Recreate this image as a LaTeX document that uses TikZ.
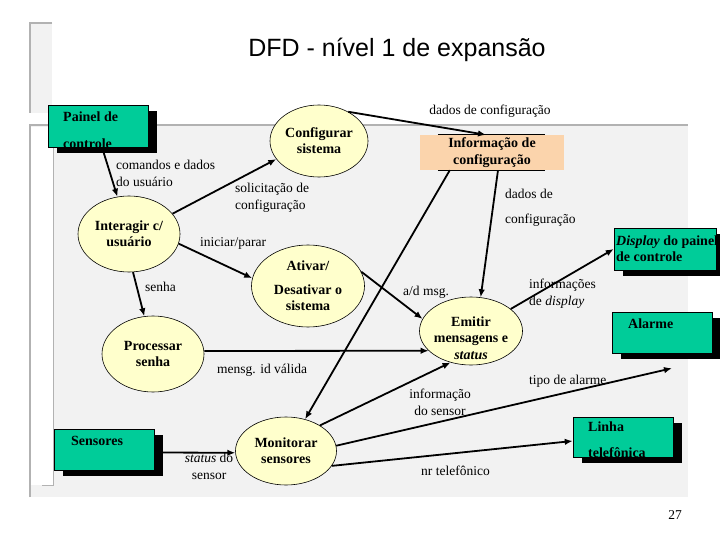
\documentclass[tikz,border=0pt]{standalone}
\usepackage{fontspec}
\setmainfont{Liberation Serif}
\newfontfamily\titlefont{Liberation Sans}
\usetikzlibrary{arrows.meta,positioning,shapes.geometric,shadows}

\definecolor{procfill}{RGB}{255,255,204}
\definecolor{extgreen}{RGB}{0,204,153}
\definecolor{storefill}{RGB}{251,212,172}
\definecolor{panelgray}{RGB}{242,242,242}
\definecolor{framegray}{RGB}{178,178,178}

\begin{document}
\begin{tikzpicture}[x=1pt,y=-1pt,
  proc/.style={ellipse,draw,fill=procfill,line width=0.6pt,inner sep=0pt,align=center,
    font=\fontsize{14}{16}\selectfont\bfseries},
  ext/.style={draw,fill=extgreen,line width=0.5pt,minimum width=100pt,minimum height=41pt,inner sep=0pt,
    drop shadow={shadow xshift=9pt,shadow yshift=-6pt,fill=black,opacity=1}},
  exttext/.style={anchor=north west,inner sep=0pt,align=left,font=\fontsize{14}{16}\selectfont\bfseries},
  store/.style={fill=storefill,minimum width=144pt,minimum height=35pt,inner sep=0pt,align=center,
    font=\fontsize{14}{17}\selectfont\bfseries},
  lbl/.style={inner sep=0pt,align=left,font=\fontsize{13.5}{17}\selectfont},
  arr/.style={-{Latex[length=8pt,width=6.5pt]},line width=1.8pt}
]
  \useasboundingbox (0,0) rectangle (720,540);
  \fill[white] (0,0) rectangle (720,540);

  % slide frame
  \fill[panelgray] (30,23) rectangle (52,113);
  \draw[framegray,line width=2pt] (52,23) -- (30,23) -- (30,113);
  \fill[panelgray] (30,125) rectangle (688,497);
  \draw[framegray,line width=2pt] (30,497) -- (30,125) -- (688,125);
  \fill[white] (31,127) rectangle (53,485);
  \draw[framegray,line width=1pt] (53,127) -- (53,485) -- (42,485);

  \node[font=\titlefont\fontsize{25}{30}\selectfont] (title) at (397,50) {DFD - nível 1 de expansão};

  % external entities
  \node[ext,minimum height=42pt] (painel) at (98,126) {};
  \node[exttext] (painelt) at (63,112) {Painel de\\[11pt]controle};
  \node[ext,minimum width=102pt,minimum height=42pt] (disp) at (665,249) {};
  \node[exttext] (dispt) at (616,236) {\textit{Display} do painel\\de controle};
  \node[ext] (alarm) at (662,332.5) {};
  \node[exttext] (alarmt) at (628,319) {Alarme};
  \node[ext,minimum height=40pt] (linha) at (623,437) {};
  \node[exttext] (linhat) at (588,422) {Linha\\[10pt]telefônica};
  \node[ext] (sens) at (104,449.5) {};
  \node[exttext] (senst) at (71,436) {Sensores};

  % processes
  \node[proc,minimum width=98pt,minimum height=72pt] (conf) at (319,141) {Configurar\\sistema};
  \node[proc,minimum width=102pt,minimum height=76pt] (inter) at (129,234) {Interagir c/\\usuário};
  \node[proc,minimum width=113pt,minimum height=82pt] (ativ) at (308,286) {Ativar/\\[8pt]Desativar o\\sistema};
  \node[proc,minimum width=103pt,minimum height=68pt] (emit) at (471,331) {};
  \node[inner sep=0pt,align=center,font=\fontsize{14}{16.5}\selectfont\bfseries] (emitt) at (471,338)
    {Emitir\\mensagens e\\\textit{status}};
  \node[proc,minimum width=102pt,minimum height=76pt] (proc) at (153,354) {Processar\\senha};
  \node[proc,minimum width=101pt,minimum height=68pt] (moni) at (286,451) {Monitorar\\sensores};

  % data store
  \node[store] (info) at (492,152.5) {Informação de\\configuração};
  \draw[line width=0.8pt] ([xshift=18pt]info.north west) -- ([xshift=-19pt]info.north east);
  \draw[line width=0.8pt] ([xshift=18pt]info.south west) -- ([xshift=-19pt]info.south east);

  % flows
  \draw[arr] ([xshift=4pt]painel.south) -- (inter);
  \draw[arr] (inter.25) -- (conf.203);
  \draw[arr] (conf.45) -- ([xshift=-6pt]info.north);
  \draw[arr] (inter.-11) -- (ativ.172);
  \draw[arr] (inter.-84) -- (proc.103);
  \draw[arr] (ativ.15) -- (emit.166);
  \draw[arr] ([yshift=3pt]proc.east) -- (emit.205);
  \draw[arr] ([xshift=30pt]info.south west) -- (moni.59);
  \draw[arr] ([xshift=6pt]info.south) -- (emit.74);
  \draw[arr] (emit.29) -- (disp.west);
  \draw[arr] (moni.37) -- (emit.237);
  \draw[arr] (moni.6) -- ([xshift=10pt,yshift=-15pt]alarm.south);
  \draw[arr] (moni.-18) -- ([yshift=-4pt]linha.west);
  \draw[arr] ([yshift=-3pt]sens.east) -- (moni.182);

  % flow labels
  \node[lbl,anchor=west] (lcmd) at (116,173.5) {comandos e dados\\do usuário};
  \node[lbl,anchor=west] (lsol) at (235,198) {solicitação de\\configuração};
  \node[lbl] (ldados) at (490,111) {dados de configuração};
  \node[lbl,anchor=west] (lini) at (200,243) {iniciar/parar};
  \node[lbl,anchor=west] (lsenha) at (145,287) {senha};
  \node[lbl,anchor=west] (lad) at (403,292) {a/d msg.};
  \node[lbl,anchor=west] (lmsg) at (217,370) {mensg. id válida};
  \node[lbl,anchor=west] (ldcfg) at (505,207.5) {dados de\\[8pt]configuração};
  \node[lbl,anchor=west] (ldisp) at (529,294) {informações\\de \textit{display}};
  \node[lbl,align=center] (lsensor) at (440,402) {informação\\do sensor};
  \node[lbl,anchor=west] (ltipo) at (529,381) {tipo de alarme};
  \node[lbl,anchor=west] (lnr) at (421,471) {nr telefônico};
  \node[lbl,align=center] (lstat) at (209,466) {\textit{status} do\\sensor};
  \node[lbl] (page) at (675,515) {27};
\end{tikzpicture}
\end{document}
